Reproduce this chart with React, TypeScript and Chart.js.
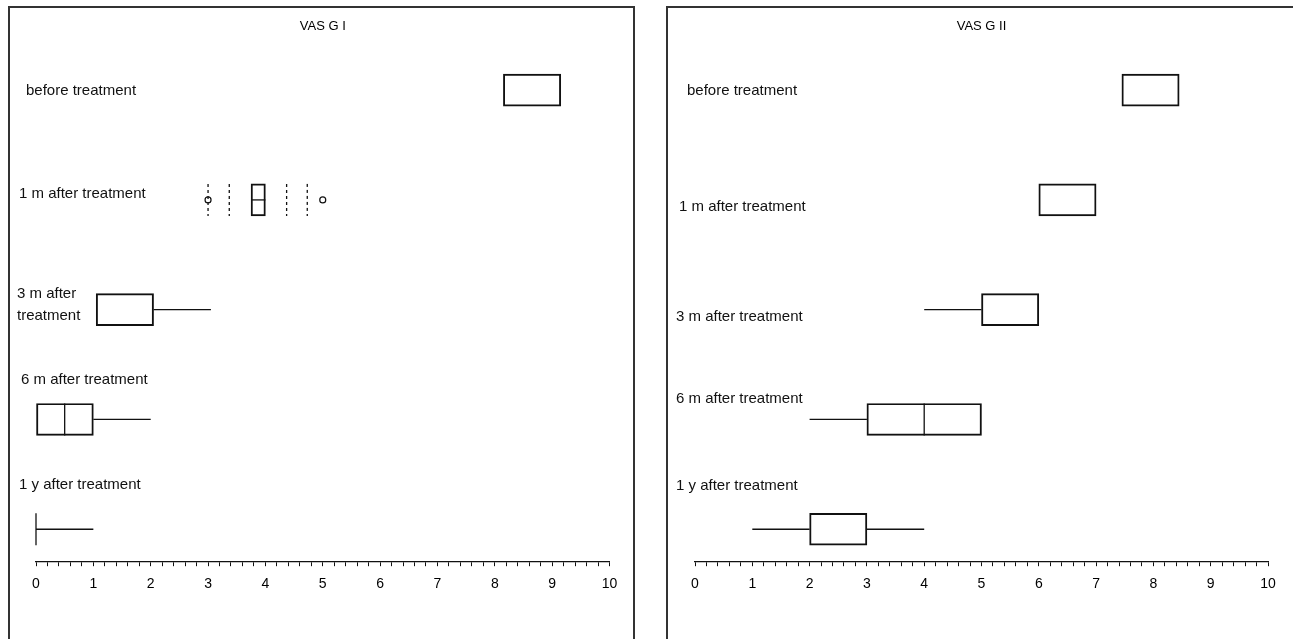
import React, { useEffect, useRef } from "react";
import { Chart, registerables } from "chart.js";

Chart.register(...registerables);

// ---------------- DATA ----------------
const rowPositions = [5, 4, 3, 2, 1];
const axisMin = 0;
const axisMax = 10;
const minorStep = 0.2;

const g1Title = "VAS G I";
const g1Labels = ["before treatment", "1 m after treatment", "3 m after\ntreatment", "6 m after treatment", "1 y after treatment"];
const g1Q1 = [8.15, 3.75, 1.05, 0, 0];
const g1Q3 = [9.15, 4.0, 2.05, 1, 0];
const g1Median: (number | null)[] = [null, null, null, 0.5, 0];
const g1Low = [8.15, 3.75, 1.05, 0, 0];
const g1High = [9.15, 4.0, 3.05, 2, 1];
const g1MidlineRows = [1];
const g1DashedRow = 1;
const g1DashedValues = [3, 3.37, 4.37, 4.73];
const g1OutlierRow = 1;
const g1Outliers = [3, 5];

const g2Title = "VAS G II";
const g2Labels = ["before treatment", "1 m after treatment", "3 m after treatment", "6 m after treatment", "1 y after treatment"];
const g2Q1 = [7.45, 6, 5, 3, 2];
const g2Q3 = [8.45, 7, 6, 5, 3];
const g2Median: (number | null)[] = [null, null, null, 4, null];
const g2Low = [7.45, 6, 4, 2, 1];
const g2High = [8.45, 7, 6, 5, 4];
const g2MidlineRows: number[] = [];
const g2DashedRow = -1;
const g2DashedValues: number[] = [];
const g2OutlierRow = -1;
const g2Outliers: number[] = [];

// ---------------- STYLE / LAYOUT ----------------
const FONT = '"Liberation Sans", Arial, Helvetica, sans-serif';
const INK = "#111";
const LINE_W = 1.3;

type PanelProps = {
  title: string;
  labels: string[];
  q1: number[];
  q3: number[];
  median: (number | null)[];
  low: number[];
  high: number[];
  midRows: number[];
  dashedRow: number;
  dashedValues: number[];
  outlierRow: number;
  outliers: number[];
  canvasLeft: number;
  canvasTop: number;
  canvasWidth: number;
  canvasHeight: number;
  padLeft: number;
  padRight: number;
  labelPos: [number, number][]; // page coords (x left, y middle)
};

function Panel(p: PanelProps) {
  const ref = useRef<HTMLCanvasElement | null>(null);
  useEffect(() => {
    if (!ref.current) return;
    const whiskerSets: any[] = [];
    rowPositions.forEach((r, i) => {
      if (p.low[i] < p.q1[i]) {
        whiskerSets.push({
          type: "line",
          data: [{ x: p.low[i], y: r }, { x: p.q1[i], y: r }],
          borderColor: INK,
          borderWidth: LINE_W,
          pointRadius: 0,
          fill: false,
        });
      }
      if (p.high[i] > p.q3[i]) {
        whiskerSets.push({
          type: "line",
          data: [{ x: p.q3[i], y: r }, { x: p.high[i], y: r }],
          borderColor: INK,
          borderWidth: LINE_W,
          pointRadius: 0,
          fill: false,
        });
      }
    });
    const outlierData = p.outlierRow >= 0 ? p.outliers.map((v) => ({ x: v, y: rowPositions[p.outlierRow] })) : [];

    const extras = {
      id: "boxExtras",
      afterDatasetsDraw(chart: any) {
        const ctx = chart.ctx;
        const xs = chart.scales.x;
        const meta = chart.getDatasetMeta(0);
        ctx.save();
        ctx.strokeStyle = INK;
        ctx.lineWidth = LINE_W;
        meta.data.forEach((el: any, i: number) => {
          const y = el.y;
          const h = el.height;
          const top = y - h / 2;
          const bot = y + h / 2;
          const m = p.median[i];
          if (m !== null && m !== undefined) {
            const px = xs.getPixelForValue(m);
            ctx.beginPath();
            ctx.moveTo(px, top);
            ctx.lineTo(px, bot);
            ctx.stroke();
          }
          if (p.midRows.includes(i)) {
            ctx.beginPath();
            ctx.moveTo(xs.getPixelForValue(p.q1[i]), y);
            ctx.lineTo(xs.getPixelForValue(p.q3[i]), y);
            ctx.stroke();
          }
          if (i === p.dashedRow) {
            ctx.save();
            ctx.setLineDash([3, 3]);
            p.dashedValues.forEach((v) => {
              const px = xs.getPixelForValue(v);
              ctx.beginPath();
              ctx.moveTo(px, top);
              ctx.lineTo(px, bot);
              ctx.stroke();
            });
            ctx.restore();
          }
        });
        ctx.restore();
      },
      afterDraw(chart: any) {
        const ctx = chart.ctx;
        ctx.save();
        ctx.fillStyle = INK;
        ctx.font = `15px ${FONT}`;
        ctx.textBaseline = "middle";
        ctx.textAlign = "left";
        p.labels.forEach((lab, i) => {
          const [px, py] = p.labelPos[i];
          lab.split("\n").forEach((line, k) => {
            ctx.fillText(line, px - p.canvasLeft, py - p.canvasTop + k * 22);
          });
        });
        ctx.restore();
      },
    };

    const chart = new Chart(ref.current, {
      type: "bar",
      data: {
        datasets: [
          {
            type: "bar",
            data: rowPositions.map((r, i) => ({ x: [p.q1[i], p.q3[i]], y: r })),
            backgroundColor: "rgba(0,0,0,0)",
            borderColor: INK,
            borderWidth: LINE_W,
            borderSkipped: false,
            barThickness: 32,
          } as any,
          ...whiskerSets,
          {
            type: "scatter",
            data: outlierData,
            pointRadius: 3,
            pointBackgroundColor: "#fff",
            pointBorderColor: INK,
            pointBorderWidth: 1.2,
          },
        ],
      },
      options: {
        indexAxis: "y",
        responsive: false,
        animation: false,
        devicePixelRatio: 1,
        layout: { padding: { left: p.padLeft, right: p.padRight, top: 0, bottom: 36 } },
        plugins: {
          legend: { display: false },
          tooltip: { enabled: false },
          title: {
            display: true,
            text: p.title,
            color: "#000",
            font: { size: 13, family: FONT, weight: "normal" },
            padding: { top: 11, bottom: 8 },
          },
        },
        scales: {
          x: {
            type: "linear",
            position: "bottom",
            min: axisMin,
            max: axisMax,
            offset: false,
            grid: {
              display: true,
              drawOnChartArea: false,
              drawTicks: true,
              tickLength: 5,
              tickColor: INK,
              tickWidth: 1,
            },
            border: { display: true, color: INK, width: LINE_W },
            ticks: {
              stepSize: minorStep,
              maxTicksLimit: 200,
              autoSkip: false,
              maxRotation: 0,
              minRotation: 0,
              padding: 10,
              color: "#000",
              font: { size: 14, family: FONT },
              callback: (v: any) => {
                const n = Number(v);
                const r = Math.round(n);
                return Math.abs(n - r) < 1e-6 ? String(r) : "";
              },
            },
          },
          y: {
            type: "linear",
            min: 0.709,
            max: 5.433,
            display: false,
            offset: false,
          },
        },
      } as any,
      plugins: [extras],
    });
    return () => chart.destroy();
  }, []);
  return (
    <canvas
      ref={ref}
      width={p.canvasWidth}
      height={p.canvasHeight}
      style={{
        position: "absolute",
        left: p.canvasLeft,
        top: p.canvasTop,
        width: p.canvasWidth,
        height: p.canvasHeight,
        display: "block",
      }}
    />
  );
}

export default function App() {
  return (
    <div
      style={{
        position: "absolute",
        left: 0,
        top: 0,
        width: 1293,
        height: 639,
        overflow: "hidden",
        background: "#fff",
      }}
    >
      <div
        style={{
          position: "absolute",
          left: 8,
          top: 6,
          width: 627,
          height: 700,
          boxSizing: "border-box",
          border: "2px solid #333",
          borderBottom: "none",
        }}
      />
      <div
        style={{
          position: "absolute",
          left: 666,
          top: 6,
          width: 700,
          height: 700,
          boxSizing: "border-box",
          border: "2px solid #333",
          borderBottom: "none",
          borderRight: "none",
        }}
      />
      <Panel
        title={g1Title}
        labels={g1Labels}
        q1={g1Q1}
        q3={g1Q3}
        median={g1Median}
        low={g1Low}
        high={g1High}
        midRows={g1MidlineRows}
        dashedRow={g1DashedRow}
        dashedValues={g1DashedValues}
        outlierRow={g1OutlierRow}
        outliers={g1Outliers}
        canvasLeft={10}
        canvasTop={8}
        canvasWidth={624}
        canvasHeight={631}
        padLeft={26}
        padRight={24.5}
        labelPos={[
          [26, 91],
          [19, 194],
          [17, 294],
          [21, 380],
          [19, 485],
        ]}
      />
      <Panel
        title={g2Title}
        labels={g2Labels}
        q1={g2Q1}
        q3={g2Q3}
        median={g2Median}
        low={g2Low}
        high={g2High}
        midRows={g2MidlineRows}
        dashedRow={g2DashedRow}
        dashedValues={g2DashedValues}
        outlierRow={g2OutlierRow}
        outliers={g2Outliers}
        canvasLeft={668}
        canvasTop={8}
        canvasWidth={625}
        canvasHeight={631}
        padLeft={27}
        padRight={25}
        labelPos={[
          [687, 91],
          [679, 207],
          [676, 317],
          [676, 399],
          [676, 486],
        ]}
      />
    </div>
  );
}
